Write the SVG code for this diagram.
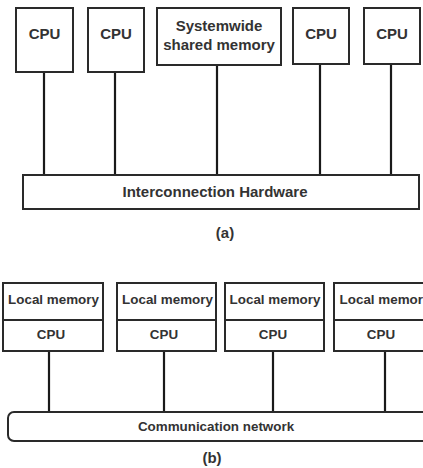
<svg xmlns="http://www.w3.org/2000/svg" width="423" height="468" viewBox="0 0 423 468">
  <style>
    .box { fill: #fff; stroke: #2a2a2a; stroke-width: 2; }
    .wire { stroke: #1a1a1a; stroke-width: 2.2; fill: none; }
    .t15 { font-family: "Liberation Sans", Arial, sans-serif; font-weight: bold; font-size: 15px; fill: #333; text-anchor: middle; }
    .t13 { font-family: "Liberation Sans", Arial, sans-serif; font-weight: bold; font-size: 13.4px; fill: #333; text-anchor: middle; }
  </style>
  <rect width="423" height="468" fill="#fff"/>

  <!-- (a) shared-memory multiprocessor -->
  <g id="connectors-a">
    <line class="wire" x1="44" y1="72" x2="44" y2="175"/>
    <line class="wire" x1="115" y1="72" x2="115" y2="175"/>
    <line class="wire" x1="217" y1="65" x2="217" y2="175"/>
    <line class="wire" x1="320" y1="64" x2="320" y2="175"/>
    <line class="wire" x1="391" y1="64" x2="391" y2="175"/>
  </g>
  <g id="cpu-a1">
    <rect class="box" x="16" y="8" width="57" height="64"/>
    <text class="t15" x="44.5" y="39">CPU</text>
  </g>
  <g id="cpu-a2">
    <rect class="box" x="88" y="8" width="56" height="64"/>
    <text class="t15" x="116" y="39">CPU</text>
  </g>
  <g id="shared-memory">
    <rect class="box" x="157" y="8" width="124" height="57"/>
    <text class="t15" x="219" y="31">Systemwide</text>
    <text class="t15" x="219" y="50">shared memory</text>
  </g>
  <g id="cpu-a3">
    <rect class="box" x="293" y="8" width="56" height="56"/>
    <text class="t15" x="321" y="39">CPU</text>
  </g>
  <g id="cpu-a4">
    <rect class="box" x="364" y="8" width="56" height="56"/>
    <text class="t15" x="392" y="39">CPU</text>
  </g>
  <g id="interconnect">
    <rect class="box" x="23" y="175" width="396" height="34"/>
    <text class="t15" x="215" y="197">Interconnection Hardware</text>
  </g>
  <text class="t15" x="225" y="238">(a)</text>

  <!-- (b) distributed-memory system -->
  <g id="connectors-b">
    <line class="wire" x1="49" y1="351" x2="49" y2="412"/>
    <line class="wire" x1="164" y1="351" x2="164" y2="412"/>
    <line class="wire" x1="273" y1="351" x2="273" y2="412"/>
    <line class="wire" x1="385" y1="351" x2="385" y2="412"/>
  </g>
  <g id="node-b1">
    <rect class="box" x="3" y="283" width="100" height="68"/>
    <line class="box" x1="3" y1="320" x2="103" y2="320"/>
    <text class="t13" x="53.5" y="304">Local memory</text>
    <text class="t13" x="51" y="339">CPU</text>
  </g>
  <g id="node-b2">
    <rect class="box" x="117" y="283" width="99" height="68"/>
    <line class="box" x1="117" y1="320" x2="216" y2="320"/>
    <text class="t13" x="167.5" y="304">Local memory</text>
    <text class="t13" x="164" y="339">CPU</text>
  </g>
  <g id="node-b3">
    <rect class="box" x="225" y="283" width="99" height="68"/>
    <line class="box" x1="225" y1="320" x2="324" y2="320"/>
    <text class="t13" x="275" y="304">Local memory</text>
    <text class="t13" x="273" y="339">CPU</text>
  </g>
  <g id="node-b4">
    <rect class="box" x="334" y="283" width="100" height="68"/>
    <line class="box" x1="334" y1="320" x2="434" y2="320"/>
    <text class="t13" x="385" y="304">Local memory</text>
    <text class="t13" x="381" y="339">CPU</text>
  </g>
  <g id="network">
    <rect class="box" x="8" y="412" width="430" height="29" rx="6"/>
    <text class="t13" x="216" y="431">Communication network</text>
  </g>
  <text class="t15" x="212" y="463">(b)</text>
</svg>
